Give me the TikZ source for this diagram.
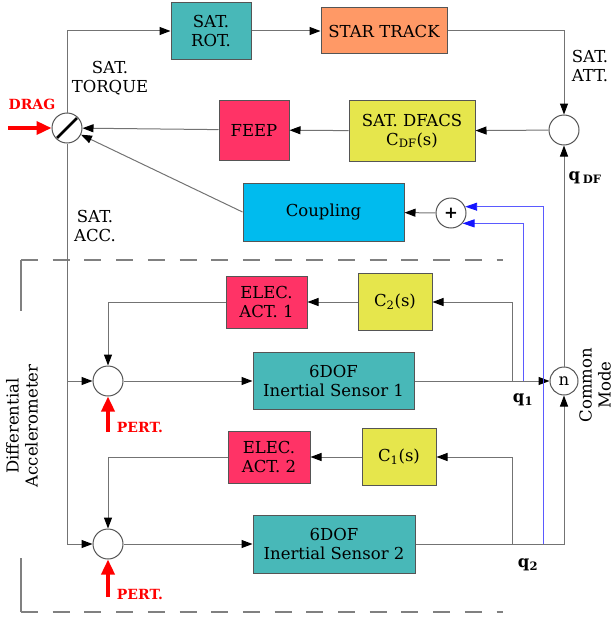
\documentclass[tikz,border=0pt]{standalone}
\usepackage{fontspec}
\setmainfont{DejaVu Serif}
\setsansfont{DejaVu Sans}
\usetikzlibrary{arrows.meta}
\definecolor{cteal}{RGB}{72,184,184}
\definecolor{corange}{RGB}{255,153,102}
\definecolor{cyellow}{RGB}{230,230,76}
\definecolor{cred}{RGB}{255,51,102}
\definecolor{cblue}{RGB}{0,187,238}
\definecolor{bordergray}{RGB}{85,85,85}
\definecolor{linegray}{RGB}{115,115,115}
\definecolor{dashgray}{RGB}{128,128,128}
\definecolor{bline}{RGB}{90,90,255}
\definecolor{btip}{RGB}{20,20,255}
\tikzset{
  blk/.style={draw=bordergray, line width=1pt, inner sep=0pt, align=center, font=\fontsize{16.5}{19}\selectfont},
  sumc/.style={circle, draw=bordergray, line width=1pt, minimum size=30pt, inner sep=0pt, fill=white, font=\fontsize{16.5}{19}\selectfont},
  conn/.style={draw=linegray, line width=1pt},
  arr/.style={conn, -{Triangle[length=11pt,width=8pt,color=black]}},
  barr/.style={draw=bline, line width=0.9pt, -{Triangle[length=12pt,width=8pt,color=btip]}},
  redarr/.style={draw=red, line width=3.5pt, -{Triangle[length=15pt,width=13pt]}},
  lbl/.style={inner sep=0pt, align=center, font=\fontsize{16.5}{19}\selectfont},
  redlbl/.style={inner sep=0pt, text=red, font=\bfseries\fontsize{14}{16}\selectfont},
  sidelbl/.style={inner sep=0pt, align=center, rotate=90, font=\fontsize{16.5}{19}\selectfont},
  dsh/.style={draw=dashgray, line width=1.2pt, dash pattern=on 17pt off 14.7pt},
  frm/.style={draw=dashgray, line width=1.2pt}
}
\begin{document}
\begin{tikzpicture}[x=1pt,y=-1pt]
\useasboundingbox (0,0) rectangle (614,618);
% dashed frame
\draw[dsh] (21,260) -- (503,260);
\draw[dsh] (21,612) -- (503,612);
\draw[frm] (21,260) -- (21,311);
\draw[frm] (21,558) -- (21,612);
% blocks
\node[blk, fill=cteal, minimum width=80pt, minimum height=57pt] (satrot) at (211,31) {SAT.\\ROT.};
\node[blk, fill=corange, minimum width=126pt, minimum height=46pt] (star) at (384,31) {STAR TRACK};
\node[blk, fill=cyellow, minimum width=126pt, minimum height=61pt] (dfacs) at (412,131) {SAT. DFACS\\C\textsubscript{DF}(s)};
\node[blk, fill=cred, minimum width=70pt, minimum height=60pt] (feep) at (254,130) {FEEP};
\node[blk, fill=cblue, minimum width=161pt, minimum height=58pt] (coupling) at (323.5,212) {Coupling};
\node[blk, fill=cred, minimum width=81pt, minimum height=52pt] (ea1) at (266.5,302) {ELEC.\\ACT. 1};
\node[blk, fill=cyellow, minimum width=74pt, minimum height=57pt] (c2) at (395,302) {C\textsubscript{2}(s)};
\node[blk, fill=cteal, minimum width=161pt, minimum height=57pt] (is1) at (333.5,381) {6DOF\\Inertial Sensor 1};
\node[blk, fill=cred, minimum width=82pt, minimum height=52pt] (ea2) at (269,457) {ELEC.\\ACT. 2};
\node[blk, fill=cyellow, minimum width=74pt, minimum height=57pt] (c1) at (399,457) {C\textsubscript{1}(s)};
\node[blk, fill=cteal, minimum width=162pt, minimum height=58pt] (is2) at (334,544) {6DOF\\Inertial Sensor 2};
% circles
\node[sumc] (torque) at (67,128) {};
\node[sumc] (att) at (564,130) {};
\node[sumc] (plus) at (451,213) {\textbf{+}};
\node[sumc] (s1) at (108,381) {};
\node[sumc] (s2) at (108,544) {};
\node[sumc, minimum size=28pt] (n) at (564,381) {n};
\draw[line width=2.6pt, shorten <=1.5pt, shorten >=1.5pt] (torque.225) -- (torque.45);
% connectors
\draw[arr] (torque.north) |- (satrot.west);
\draw[arr] (satrot) -- (star);
\draw[arr] (star.east) -| (att.north);
\draw[arr] (att) -- (dfacs);
\draw[arr] (dfacs) -- (feep);
\draw[arr] (feep) -- (torque);
\draw[arr] (coupling.west) -- (torque);
\draw[arr] (plus) -- (coupling);
\draw[arr] (n) -- (att);
\coordinate (j1) at (67,381);
\draw[arr] (torque.south) |- (s2.west);
\draw[arr] (j1) -- (s1.west);
\draw[arr] (ea1.west) -| (s1.north);
\draw[arr] (c2) -- (ea1);
\draw[arr] (s1) -- (is1);
\draw[arr] (is1) -- (n);
\coordinate (b1) at (512,381);
\draw[arr] (b1) |- (c2.east);
\draw[arr] (ea2.west) -| (s2.north);
\draw[arr] (c1) -- (ea2);
\draw[arr] (s2) -- (is2);
\coordinate (b2) at (512,544);
\draw[arr] (is2.east) -| (n.south);
\draw[arr] (b2) |- (c1.east);
\coordinate (u1) at (523,381);
\coordinate (u2) at (543,544);
\draw[barr] (u1) |- (plus.-42);
\draw[barr] (u2) |- (plus.24);
% red inputs
\coordinate (dragst) at (8,128);
\draw[redarr] (dragst) -- (torque.west);
\coordinate (p1) at (108,432);
\draw[redarr] (p1) -- (s1.south);
\coordinate (p2) at (108,597);
\draw[redarr] (p2) -- (s2.south);
% labels
\node[lbl] (tq) at (110,78) {SAT.\\TORQUE};
\node[lbl] (acc) at (95,226) {SAT.\\ACC.};
\node[lbl] (attl) at (590,66) {SAT.\\ATT.};
\node[lbl] (qdf) at (585,178) {\textbf{q}\,\textsubscript{\textbf{DF}}};
\node[lbl] (q1) at (523,400) {\textbf{q}\textsubscript{\textbf{1}}};
\node[lbl] (q2) at (528,565) {\textbf{q}\textsubscript{\textbf{2}}};
\node[redlbl] (drag) at (32,104) {DRAG};
\node[redlbl] (pert1) at (140,427) {PERT.};
\node[redlbl] (pert2) at (140,594) {PERT.};
\node[sidelbl] (diff) at (22,426) {Differential\\Accelerometer};
\node[sidelbl] (cm) at (595,385) {Common\\Mode};
\end{tikzpicture}
\end{document}
